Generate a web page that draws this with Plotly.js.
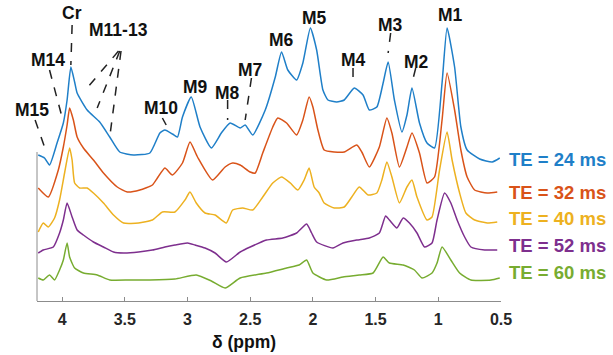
<!DOCTYPE html>
<html>
<head>
<meta charset="utf-8">
<script src="https://cdn.plot.ly/plotly-3.0.1.min.js"></script>
<style>html,body{margin:0;padding:0;background:#fff;}#chart{width:613px;height:355px;}</style>
</head>
<body>
<div id="chart"></div>
<script>
// Chemical shift (ppm) and stacked intensity (a.u.)
const ppm24 = [4.19,4.14,4.10,4.04,3.99,3.96,3.93,3.90,3.88,3.80,3.70,3.62,3.54,3.43,3.30,3.22,3.18,3.12,3.08,3.04,2.97,2.90,2.81,2.73,2.66,2.58,2.54,2.48,2.38,2.30,2.25,2.20,2.13,2.08,2.02,1.97,1.92,1.88,1.81,1.75,1.67,1.60,1.55,1.49,1.44,1.40,1.35,1.29,1.25,1.21,1.15,1.09,1.03,0.97,0.93,0.87,0.82,0.77,0.67,0.57,0.51];
const te24 = [146,143,136,158,178,201,234,219,208,191,179,164,149,146,148,168,171,167,164,184,204,174,153,168,178,173,176,166,191,224,249,231,221,238,273,251,211,201,199,201,213,206,191,194,218,239,201,169,186,213,178,158,153,218,273,234,174,151,142,139,143];

const ppm32 = [4.19,4.11,4.03,3.99,3.96,3.94,3.91,3.88,3.83,3.75,3.67,3.56,3.48,3.38,3.28,3.24,3.18,3.12,3.04,2.98,2.92,2.80,2.70,2.64,2.58,2.50,2.46,2.40,2.32,2.28,2.21,2.13,2.08,2.03,2.00,1.96,1.91,1.83,1.75,1.65,1.61,1.55,1.47,1.41,1.37,1.31,1.25,1.21,1.15,1.09,1.03,0.97,0.93,0.87,0.82,0.77,0.71,0.61,0.53];
const te32 = [113,104,131,154,176,193,181,164,153,141,128,114,109,111,116,123,133,126,138,159,144,121,134,138,136,129,128,148,174,183,178,166,181,204,194,171,151,149,149,156,149,134,154,183,168,134,154,168,148,118,124,181,228,191,151,124,111,108,109];

const ppm40 = [4.19,4.15,4.11,4.06,4.02,3.98,3.94,3.92,3.90,3.86,3.80,3.75,3.67,3.59,3.51,3.39,3.28,3.20,3.10,3.02,2.98,2.93,2.86,2.78,2.69,2.64,2.56,2.48,2.40,2.32,2.25,2.18,2.12,2.07,2.03,1.99,1.95,1.91,1.83,1.75,1.69,1.63,1.56,1.49,1.45,1.41,1.37,1.31,1.25,1.21,1.17,1.09,1.05,0.99,0.93,0.89,0.83,0.78,0.71,0.61,0.53];
const te40 = [69,78,74,83,101,128,153,141,118,113,113,108,98,86,78,78,81,89,89,101,109,98,88,86,78,91,93,91,104,118,124,118,111,121,133,114,108,98,93,94,104,114,106,108,121,139,124,98,114,121,104,81,84,131,169,141,108,88,81,78,79];

const ppm52 = [4.19,4.15,4.07,4.02,3.99,3.96,3.92,3.88,3.83,3.75,3.67,3.59,3.51,3.39,3.28,3.18,3.10,3.00,2.94,2.86,2.78,2.69,2.58,2.50,2.37,2.24,2.13,2.05,2.01,1.97,1.84,1.76,1.65,1.55,1.47,1.42,1.39,1.33,1.28,1.23,1.17,1.11,1.05,1.01,0.95,0.90,0.85,0.79,0.74,0.63,0.53];
const te52 = [48,51,54,68,81,98,84,71,66,59,54,49,48,49,51,54,56,58,56,53,48,39,49,54,61,63,68,77,68,59,53,58,61,63,68,85,81,73,83,78,68,54,58,81,108,98,81,64,54,51,51];

const ppm60 = [4.19,4.15,4.10,4.06,4.02,3.99,3.96,3.94,3.90,3.83,3.72,3.62,3.46,3.30,3.10,2.93,2.81,2.70,2.58,2.37,2.21,2.11,2.05,2.00,1.89,1.76,1.63,1.52,1.44,1.39,1.28,1.19,1.13,1.05,1.01,0.97,0.90,0.83,0.74,0.58,0.51];
const te60 = [23,21,26,21,31,41,58,44,33,28,26,21,21,21,22,26,20,13,23,28,33,36,41,28,21,24,26,28,44,38,36,31,23,28,38,54,41,28,21,21,23];

const seriesNames = ['TE = 24 ms','TE = 32 ms','TE = 40 ms','TE = 52 ms','TE = 60 ms'];
const seriesColors = ['#1f7fc8','#d95319','#edb120','#7e2f8e','#77ac30'];
const labelLevels = [141,109,83,56,29];

const tickVals = [4,3.5,3,2.5,2,1.5,1,0.5];
const tickText = ['4','3.5','3','2.5','2','1.5','1','0.5'];

// Peak labels: [text, ppm, intensity]
const peakLabels = [
  ['Cr',3.92,288],['M11-13',3.55,271],['M14',4.11,241],['M15',4.24,191],
  ['M10',3.21,193],['M9',2.94,214],['M8',2.68,208],['M7',2.50,231],
  ['M6',2.25,261],['M5',1.99,283],['M4',1.68,241],['M3',1.38,276],
  ['M2',1.17,239],['M1',0.90,286]
];
// Leader lines: [ppm0, int0, ppm1, int1]
const leaders = [
  [3.92,276,3.93,236],[4.10,231,3.99,179],[4.215,181,4.14,154],
  [3.55,250,3.80,213],[3.54,250,3.72,193],[3.53,250,3.62,164],
  [3.20,183,3.17,176],[2.68,201,2.68,181],[2.49,223,2.54,181],
  [1.68,233,1.68,218],[1.38,268,1.40,248],[1.18,233,1.21,218]
];

const xs = [ppm24,ppm32,ppm40,ppm52,ppm60];
const ys = [te24,te32,te40,te52,te60];

const X_RANGE = [4.2,0.5];
const Y_RANGE = [0,301];
// convert data values to paper fractions so items beyond the axis range are still drawn
const px = v => (X_RANGE[0]-v)/(X_RANGE[0]-X_RANGE[1]);
const py = v => (v-Y_RANGE[0])/(Y_RANGE[1]-Y_RANGE[0]);

const FONT = 'Liberation Sans, Arial, sans-serif';

const traces = xs.map((x,i)=>({
  x: x, y: ys[i], type:'scatter', mode:'lines', name: seriesNames[i],
  line:{color: seriesColors[i], width:1.5, shape:'spline', smoothing:0.5},
  hoverinfo:'skip'
}));

const annotations = peakLabels.map(p=>({
  x:px(p[1]), y:py(p[2]), xref:'paper', yref:'paper', text:'<b>'+p[0]+'</b>', showarrow:false,
  font:{family:FONT, size:17.5, color:'#111'}, xanchor:'center', yanchor:'middle'
}));
seriesNames.forEach((n,i)=>{
  annotations.push({x:1.013, xref:'paper', y:py(labelLevels[i]), yref:'paper', text:'<b>'+n+'</b>',
    showarrow:false, xanchor:'left', yanchor:'middle',
    font:{family:FONT, size:18.5, color:seriesColors[i]}});
});
annotations.push({x:px(2.55), xref:'paper', y:py(-41), yref:'paper', text:'<b>δ (ppm)</b>', showarrow:false,
  xanchor:'center', yanchor:'middle', font:{family:FONT, size:17.5, color:'#111'}});

const shapes = leaders.map(l=>({
  type:'line', xref:'paper', yref:'paper', x0:px(l[0]), y0:py(l[1]), x1:px(l[2]), y1:py(l[3]),
  line:{color:'#222', width:1.5, dash:'dash'}
}));
shapes.push({type:'line', xref:'paper', yref:'paper', x0:0, x1:0, y0:0, y1:py(149),
  line:{color:'#8c8c8c', width:1}});

const layout = {
  width:613, height:355,
  margin:{l:37, r:112, t:0, b:54, pad:0},
  paper_bgcolor:'#fff', plot_bgcolor:'rgba(0,0,0,0)',
  showlegend:false,
  xaxis:{range:X_RANGE, tickvals:tickVals, ticktext:tickText.map(t=>'<b>'+t+'</b>'), ticks:'inside', ticklen:4,
    tickcolor:'#8c8c8c', showline:true, linecolor:'#8c8c8c', linewidth:1, showgrid:false,
    zeroline:false, ticklabelstandoff:4,
    tickfont:{family:FONT, size:16, color:'#262626'}},
  yaxis:{range:Y_RANGE, visible:false, fixedrange:true},
  annotations: annotations,
  shapes: shapes
};

Plotly.newPlot('chart', traces, layout, {staticPlot:true, displayModeBar:false});
</script>
</body>
</html>
